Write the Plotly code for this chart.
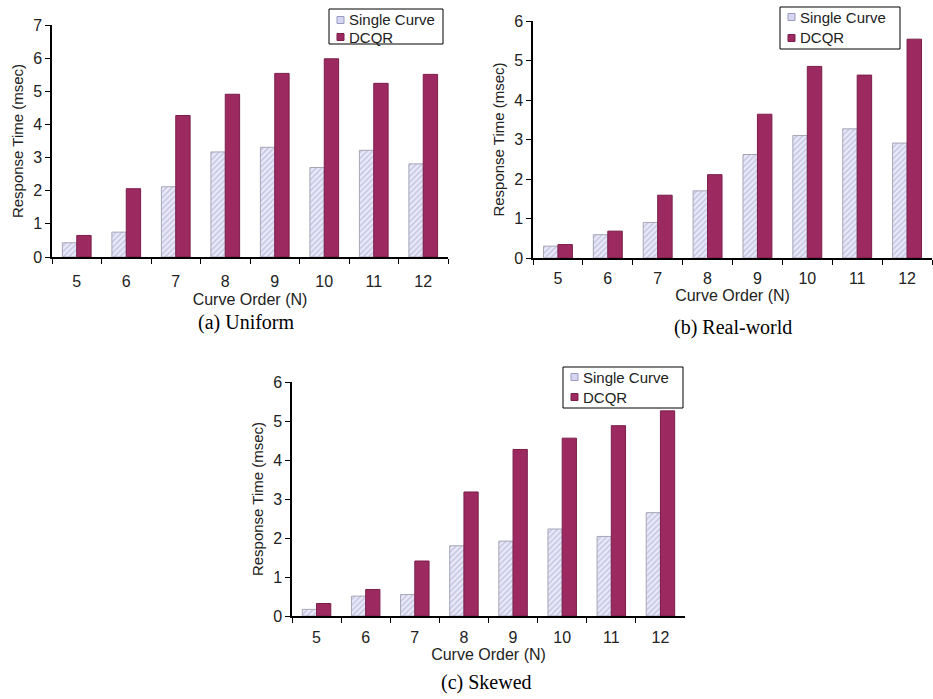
import plotly.graph_objects as go

# Curve orders on the x axis
orders = ["5", "6", "7", "8", "9", "10", "11", "12"]

# Response time (msec) per data set
uniform_single = [0.43, 0.75, 2.12, 3.17, 3.31, 2.70, 3.22, 2.81]
uniform_dcqr = [0.65, 2.06, 4.27, 4.91, 5.54, 5.98, 5.24, 5.51]

realworld_single = [0.30, 0.59, 0.90, 1.70, 2.62, 3.10, 3.27, 2.91]
realworld_dcqr = [0.34, 0.68, 1.59, 2.11, 3.64, 4.85, 4.63, 5.54]

skewed_single = [0.17, 0.51, 0.55, 1.80, 1.92, 2.23, 2.04, 2.65]
skewed_dcqr = [0.32, 0.68, 1.41, 3.18, 4.27, 4.56, 4.88, 5.26]

series_names = ["Single Curve", "DCQR"]
captions = ["(a) Uniform", "(b) Real-world", "(c) Skewed"]
y_max = [7, 6, 6]

SANS = "Liberation Sans, Arial, sans-serif"
SERIF = "Liberation Serif, Times New Roman, serif"
DCQR_COLOR = "#9c2a60"
SINGLE_BG = "#e9e9f9"
SINGLE_FG = "#a4a4cc"

W, H = 933, 699


def px_x(v):
    return v / W


def px_y(v):
    return 1 - v / H


# panel geometry in pixels: (left, right, bottom(y=0), top(y=max))
panels = [
    (52, 448, 257, 25),
    (533, 932, 258, 21),
    (292, 685, 616, 382),
]
# spacing below each x axis: (tick label standoff, title standoff)
x_standoffs = [(9, 5), (5, 4), (6, 4)]
# legend boxes in pixels: (x0, y0, x1, y1, row1_y, row2_y)
legend_boxes = [
    (329, 9, 443, 44, 20, 37),
    (780, 7, 900, 49, 17, 38),
    (563, 367, 683, 408, 377, 397),
]
caption_pos = [(247, 322), (733, 327), (487, 682)]

series = [
    (uniform_single, uniform_dcqr),
    (realworld_single, realworld_dcqr),
    (skewed_single, skewed_dcqr),
]

fig = go.Figure()
layout = {}
annotations = []
shapes = []

for i, ((single, dcqr), (l, r, b, t)) in enumerate(zip(series, panels)):
    suffix = "" if i == 0 else str(i + 1)
    xa, ya = "x" + suffix, "y" + suffix

    fig.add_trace(go.Bar(
        x=orders, y=single, name=series_names[0],
        xaxis=xa, yaxis=ya, showlegend=False,
        marker=dict(
            color=SINGLE_BG,
            line=dict(color="#a6a6b6", width=1),
            pattern=dict(shape="/", fgcolor=SINGLE_FG, bgcolor=SINGLE_BG,
                         size=4, solidity=0.4),
        ),
    ))
    fig.add_trace(go.Bar(
        x=orders, y=dcqr, name=series_names[1],
        xaxis=xa, yaxis=ya, showlegend=False,
        marker=dict(color=DCQR_COLOR, line=dict(color="#7a1e4a", width=1)),
    ))

    tick_off, title_off = x_standoffs[i]
    layout["xaxis" + suffix] = dict(
        domain=[px_x(l), px_x(r)], anchor=ya, automargin=False,
        type="category", showline=True, linecolor="black", linewidth=1.5,
        ticks="outside", tickson="boundaries", ticklen=5, tickcolor="black",
        ticklabelstandoff=tick_off,
        showgrid=False, zeroline=False,
        tickfont=dict(family=SANS, size=16, color="#222"),
        title=dict(text="Curve Order (N)", standoff=title_off,
                   font=dict(family=SANS, size=16, color="#222")),
    )
    layout["yaxis" + suffix] = dict(
        domain=[px_y(b), px_y(t)], anchor=xa, automargin=False,
        range=[0, y_max[i]], dtick=1,
        showline=True, linecolor="black", linewidth=1.5,
        ticks="outside", ticklen=5, tickcolor="black",
        showgrid=False, zeroline=False,
        tickfont=dict(family=SANS, size=16, color="#222"),
        title=dict(text="Response Time (msec)", standoff=6,
                   font=dict(family=SANS, size=15, color="#222")),
    )

    # legend box with swatches and labels
    x0, y0, x1, y1, r1, r2 = legend_boxes[i]
    shapes.append(dict(type="rect", xref="paper", yref="paper",
                       x0=px_x(x0), x1=px_x(x1), y0=px_y(y1), y1=px_y(y0),
                       line=dict(color="black", width=1), fillcolor="white",
                       layer="above"))
    for ry, fill, edge, name in [(r1, "#d6d6f2", "#9a9ac0", series_names[0]),
                                 (r2, DCQR_COLOR, "#7a1e4a", series_names[1])]:
        shapes.append(dict(type="rect", xref="paper", yref="paper",
                           x0=px_x(x0 + 8), x1=px_x(x0 + 15),
                           y0=px_y(ry + 3.5), y1=px_y(ry - 3.5),
                           line=dict(color=edge, width=1), fillcolor=fill,
                           layer="above"))
        annotations.append(dict(
            text=name, xref="paper", yref="paper",
            x=px_x(x0 + 18), y=px_y(ry), xanchor="left", yanchor="middle",
            showarrow=False, font=dict(family=SANS, size=15, color="#222"),
        ))

    cx, cy = caption_pos[i]
    annotations.append(dict(
        text=captions[i], xref="paper", yref="paper",
        x=px_x(cx), y=px_y(cy), xanchor="center", yanchor="middle",
        showarrow=False, font=dict(family=SERIF, size=20, color="black"),
    ))

fig.update_layout(
    width=W, height=H,
    margin=dict(l=0, r=0, t=0, b=0),
    paper_bgcolor="white", plot_bgcolor="white",
    barmode="group", bargap=0.42, bargroupgap=0,
    showlegend=False,
    annotations=annotations,
    shapes=shapes,
    **layout,
)

fig.write_html("out.html")
